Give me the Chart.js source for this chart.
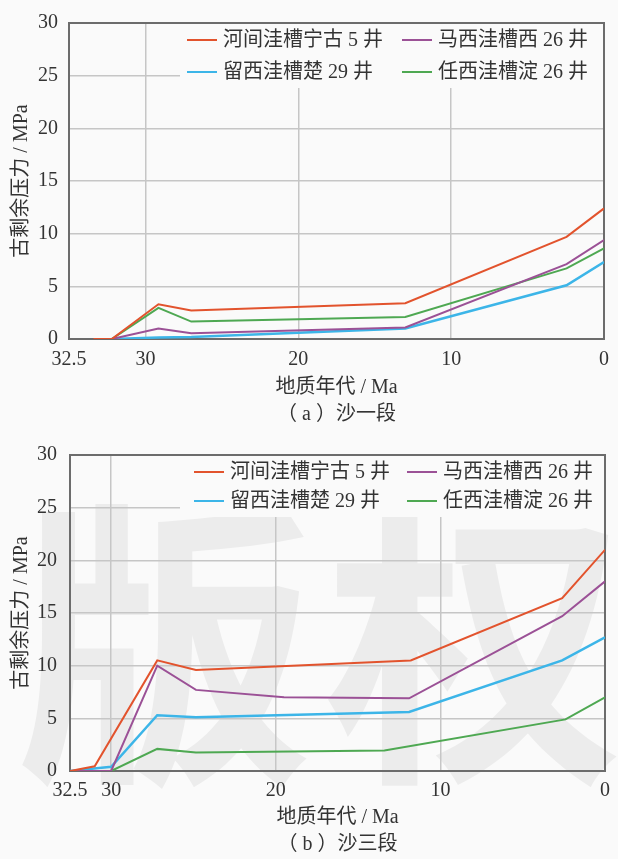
<!DOCTYPE html>
<html>
<head>
<meta charset="utf-8">
<script src="https://cdn.jsdelivr.net/npm/chart.js@4.4.1/dist/chart.umd.min.js"></script>
<style>
  body { margin: 0; background: #fafafa; }
  canvas { display: block; }
</style>
</head>
<body>
<canvas id="chartA" width="618" height="430"></canvas>
<canvas id="chartB" width="618" height="429"></canvas>
<script>
// well names (legend order) and colours
const wellNames = ['河间洼槽宁古 5 井', '马西洼槽西 26 井', '留西洼槽楚 29 井', '任西洼槽淀 26 井'];
const wellColors = ['#e2532d', '#9b5196', '#3cb5e8', '#4ea852'];

// y axis
const pressureTicks = [0, 5, 10, 15, 20, 25, 30];

// (a) 沙一段 -- x in axis units (left edge of this panel is labelled 32.5)
const xTicksA = [35, 30, 20, 10, 0];
const xLabelsA = ['32.5', '30', '20', '10', '0'];
const ageA_ningu5 = [33.4, 32.2, 29.15, 27.0, 13.0, 2.45, 0];
const prsA_ningu5 = [0, 0, 3.3, 2.7, 3.4, 9.7, 12.4];
const ageA_xi26 = [32.2, 29.15, 27.0, 13.0, 2.45, 0];
const prsA_xi26 = [0, 1.0, 0.55, 1.1, 7.1, 9.4];
const ageA_chu29 = [32.2, 29.15, 27.0, 20.0, 13.0, 2.45, 0];
const prsA_chu29 = [0, 0.15, 0.2, 0.6, 1.0, 5.1, 7.3];
const ageA_dian26 = [32.2, 29.15, 27.0, 13.0, 2.45, 0];
const prsA_dian26 = [0, 2.95, 1.65, 2.1, 6.7, 8.6];

// (b) 沙三段
const xTicksB = [32.5, 30, 20, 10, 0];
const xLabelsB = ['32.5', '30', '20', '10', '0'];
const ageB_ningu5 = [32.5, 31.0, 27.2, 24.85, 11.8, 2.6, 0];
const prsB_ningu5 = [0, 0.45, 10.5, 9.6, 10.5, 16.4, 21.0];
const ageB_xi26 = [32.5, 30.0, 27.2, 24.85, 19.5, 11.9, 2.6, 0];
const prsB_xi26 = [0, 0, 10.0, 7.7, 7.0, 6.9, 14.7, 18.0];
const ageB_chu29 = [32.5, 30.0, 27.2, 24.85, 11.9, 2.6, 0];
const prsB_chu29 = [0, 0.4, 5.3, 5.1, 5.6, 10.5, 12.7];
const ageB_dian26 = [32.5, 30.0, 27.2, 24.85, 13.4, 2.4, 0];
const prsB_dian26 = [0, 0, 2.1, 1.75, 1.95, 4.9, 7.0];

const FONT = '"Liberation Serif", "Noto Sans CJK SC", serif';
const TEXT = '#333';

function pts(xs, ys) {
  return xs.map((x, i) => ({ x: x, y: ys[i] }));
}

function datasets(series) {
  return series.map((s, i) => ({
    label: wellNames[i],
    data: pts(s[0], s[1]),
    borderColor: wellColors[i],
    backgroundColor: wellColors[i],
    borderWidth: i === 2 ? 2.5 : 2,
    pointRadius: 0,
    tension: 0
  }));
}

// legend drawn inside the plot on a plain box that hides the grid,
// then the frame, so the lines still sit on top of both
const insideLegend = {
  id: 'insideLegend',
  beforeDatasetsDraw(chart, args, opts) {
    const { ctx, chartArea: a } = chart;
    const b = opts.box;
    ctx.save();
    ctx.fillStyle = '#fafafa';
    ctx.fillRect(b[0], b[1], b[2], b[3]);
    ctx.font = '20px ' + FONT;
    ctx.textBaseline = 'middle';
    chart.data.datasets.forEach((ds, i) => {
      const x = opts.cols[i % 2];
      const y = opts.rows[Math.floor(i / 2)];
      ctx.strokeStyle = ds.borderColor;
      ctx.lineWidth = 2;
      ctx.beginPath();
      ctx.moveTo(x, y);
      ctx.lineTo(x + 30, y);
      ctx.stroke();
      ctx.fillStyle = TEXT;
      ctx.fillText(ds.label, x + 36, y + 1);
    });
    ctx.strokeStyle = '#6c6c6c';
    ctx.lineWidth = 2;
    ctx.strokeRect(a.left, a.top, a.right - a.left, a.bottom - a.top);
    ctx.restore();
  }
};

// faint watermark of panel (b)
const watermark = {
  id: 'watermark',
  beforeDraw(chart, args, opts) {
    if (!opts.text) return;
    const ctx = chart.ctx;
    ctx.save();
    ctx.fillStyle = 'rgba(0,0,0,0.055)';
    ctx.font = 'bold 300px "Noto Sans CJK SC"';
    ctx.textAlign = 'center';
    ctx.textBaseline = 'middle';
    ctx.fillText(opts.text[0], 165, 215);
    ctx.fillText(opts.text[1], 475, 215);
    ctx.restore();
  }
};

function makeChart(id, cfg) {
  return new Chart(document.getElementById(id), {
    type: 'line',
    data: { datasets: datasets(cfg.series) },
    plugins: [watermark, insideLegend],
    options: {
      responsive: false,
      animation: false,
      layout: { padding: { top: cfg.top, right: cfg.right, left: 0, bottom: 0 } },
      plugins: {
        legend: { display: false },
        tooltip: { enabled: false },
        title: {
          display: true,
          position: 'bottom',
          fullSize: false,
          text: cfg.caption,
          color: TEXT,
          font: { family: FONT, size: 20, weight: 'normal' },
          padding: { top: 3, bottom: cfg.capPad }
        },
        insideLegend: cfg.legend,
        watermark: { text: cfg.watermark }
      },
      scales: {
        x: {
          type: 'linear',
          reverse: true,
          min: 0,
          max: cfg.xTicks[0],
          afterBuildTicks: s => { s.ticks = cfg.xTicks.map(v => ({ value: v })); },
          afterFit: s => { s.height = cfg.xHeight; },
          ticks: {
            autoSkip: false,
            maxRotation: 0,
            color: TEXT,
            padding: cfg.xTickPad,
            font: { family: FONT, size: 20 },
            callback: v => cfg.xLabels[cfg.xTicks.indexOf(v)]
          },
          grid: { color: '#c6c6c6', lineWidth: 1.5, drawTicks: false },
          border: { color: '#6c6c6c', width: 2 },
          title: {
            display: true,
            text: '地质年代 / Ma',
            color: TEXT,
            font: { family: FONT, size: 20 },
            padding: { top: 0, bottom: cfg.xTitlePad }
          }
        },
        y: {
          min: 0,
          max: 30,
          afterBuildTicks: s => { s.ticks = pressureTicks.map(v => ({ value: v })); },
          afterFit: s => { s.width = cfg.yWidth; },
          ticks: { color: TEXT, padding: cfg.yTickPad, font: { family: FONT, size: 20 } },
          grid: { color: '#c6c6c6', lineWidth: 1.5, drawTicks: false },
          border: { color: '#6c6c6c', width: 2 },
          title: {
            display: true,
            text: '古剩余压力 / MPa',
            color: TEXT,
            font: { family: FONT, size: 20 },
            padding: { top: 10, bottom: 0 }
          }
        }
      }
    }
  });
}

makeChart('chartA', {
  series: [[ageA_ningu5, prsA_ningu5], [ageA_xi26, prsA_xi26], [ageA_chu29, prsA_chu29], [ageA_dian26, prsA_dian26]],
  xTicks: xTicksA, xLabels: xLabelsA,
  caption: '（ a ）沙一段',
  top: 14, right: 7, yWidth: 69, yTickPad: 11,
  xHeight: 61, xTickPad: 9, xTitlePad: 0, capPad: 3,
  legend: { box: [180, 15, 426, 73], cols: [187, 402], rows: [40, 72] },
  watermark: null
});

makeChart('chartB', {
  series: [[ageB_ningu5, prsB_ningu5], [ageB_xi26, prsB_xi26], [ageB_chu29, prsB_chu29], [ageB_dian26, prsB_dian26]],
  xTicks: xTicksB, xLabels: xLabelsB,
  caption: '（ b ）沙三段',
  top: 17, right: 6, yWidth: 70, yTickPad: 13,
  xHeight: 59, xTickPad: 8, xTitlePad: 0, capPad: 2,
  legend: { box: [180, 18, 424, 69], cols: [194, 407], rows: [42, 71] },
  watermark: ['版', '权']
});
</script>
</body>
</html>
